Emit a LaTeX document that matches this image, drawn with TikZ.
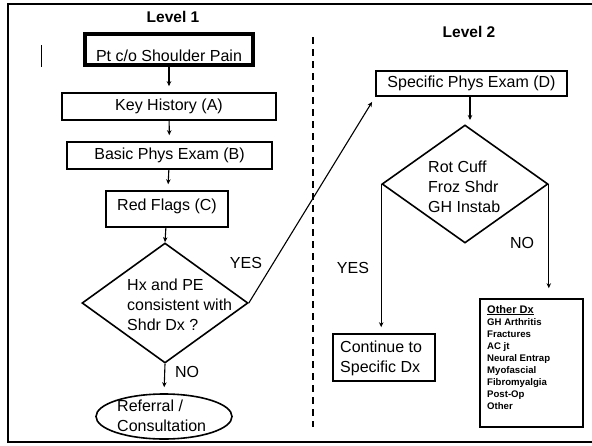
\documentclass[tikz,border=0pt]{standalone}
\usepackage{fontspec}
\setmainfont{Liberation Sans}
\usetikzlibrary{shapes.geometric,arrows.meta,calc}
\tikzset{
  big/.style={font=\fontsize{16}{20}\selectfont},
  boxn/.style={draw, line width=1.6pt, inner sep=0pt, big},
  dia/.style={draw, diamond, line width=1.6pt, inner sep=0pt},
  arr/.style={line width=1.1pt, -{Stealth[length=5pt,width=4.5pt]}, shorten >=6pt},
  lbl/.style={big, inner sep=0pt},
  ttl/.style={font=\fontsize{15.5}{18}\selectfont\bfseries, inner sep=0pt}
}
\begin{document}
\begin{tikzpicture}[x=1pt,y=-1pt]
\useasboundingbox (0,0) rectangle (592,445);
% frame
\draw[line width=2pt] (595,4) -- (8,4) -- (8,442) -- (595,442);
\draw[line width=0.8pt] (41,45) -- (41,67);
% dashed divider
\draw[line width=1.4pt, dash pattern=on 7pt off 5pt] (313,37) -- (313,427);
% titles
\node[ttl] (lv1) at (173,17) {Level 1};
\node[ttl] (lv2) at (469,32) {Level 2};
% level 1
\node[boxn, line width=3.5pt, minimum width=168pt, minimum height=31pt] (pt) at (169,49.5) {\raisebox{-6pt}[\height][\depth]{Pt c/o Shoulder Pain}};
\node[boxn, minimum width=214pt, minimum height=27pt] (key) at (169,106.5) {Key History (A)};
\node[boxn, minimum width=205pt, minimum height=27pt] (basic) at (169.5,155.5) {Basic Phys Exam (B)};
\node[boxn, minimum width=122pt, minimum height=36pt] (red) at (167,209) {\raisebox{3pt}[\height][\depth]{Red Flags (C)}};
\node[dia, minimum width=166pt, minimum height=120pt] (d1) at (165,303) {};
\node[lbl, anchor=west, align=left] (d1t) at (127,305) {Hx and PE\\consistent with\\Shdr Dx ?};
\node[draw, ellipse, line width=1.6pt, minimum width=136pt, minimum height=45pt, inner sep=0pt] (ell) at (164,416.5) {};
\node[lbl, anchor=west, align=left] (ellt) at (117,416) {Referral /\\Consultation};
\draw[arr] (pt) -- (key);
\draw[arr] (key) -- (basic);
\draw[arr] (basic) -- (red);
\draw[arr, shorten >=0pt] (red) -- (d1.north);
\draw[arr] (d1.south) -- (ell.north);
\node[lbl] (no1) at (187,372) {NO};
\node[lbl] (yes1) at (246,263) {YES};
% level 2
\node[boxn, minimum width=191pt, minimum height=25pt] (spec) at (471.5,83.5) {Specific Phys Exam (D)};
\draw[arr] (d1.east) -- (spec.south west);
\node[dia, minimum width=166pt, minimum height=118pt] (d2) at (465,184) {};
\node[lbl, anchor=west, align=left] (d2t) at (428,187) {Rot Cuff\\Froz Shdr\\GH Instab};
\draw[arr, shorten >=5pt] (spec.south -| 470,0) -- (470,125);
\node[boxn, minimum width=102pt, minimum height=47pt] (cont) at (384,357.5) {};
\node[lbl, anchor=west, align=left] (contt) at (340,358.5) {Continue to\\Specific Dx};
\node[boxn, minimum width=103pt, minimum height=128pt] (oth) at (531.5,363) {};
\node[anchor=north west, align=left, inner sep=0pt, font=\fontsize{9.6}{12.1}\selectfont\bfseries] (otht) at (487,305)
  {\underline{\fontsize{11}{12.1}\selectfont Other Dx}\\GH Arthritis\\Fractures\\AC jt\\Neural Entrap\\Myofascial\\Fibromyalgia\\Post-Op\\Other};
\draw[arr] (d2.west) -- (d2.west |- cont.north);
\draw[arr, shorten >=10pt] (d2.east) -- (d2.east |- oth.north);
\node[lbl] (yes2) at (353,268) {YES};
\node[lbl] (no2) at (522,243) {NO};
\end{tikzpicture}
\end{document}
